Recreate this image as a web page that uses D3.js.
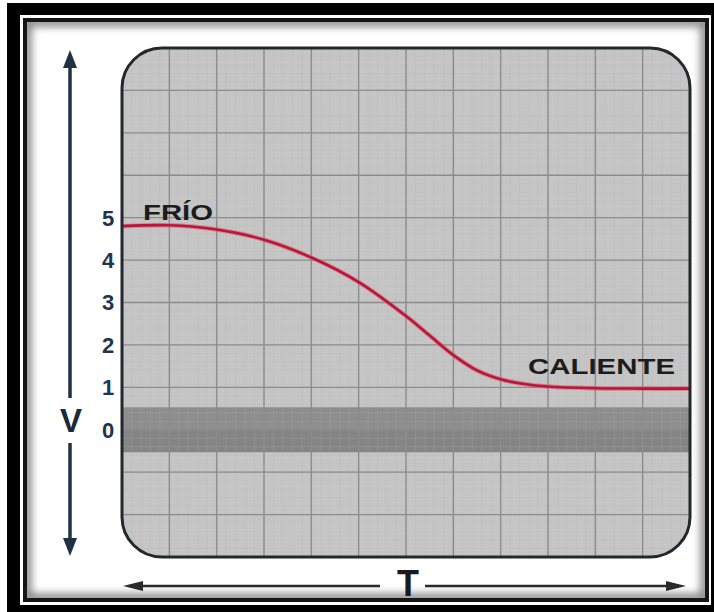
<!DOCTYPE html>
<html>
<head>
<meta charset="utf-8">
<script src="https://cdn.jsdelivr.net/npm/d3@7"></script>
<style>
  body { margin: 0; background: #fff; }
  svg { display: block; }
</style>
</head>
<body>
<div id="chart"></div>
<script>
// data: T in grid columns, V in volts
const tValues = [0, 1, 2, 3, 4, 5, 6, 6.5, 7, 7.5, 8, 8.5, 9, 10, 11, 12];
const vValues = [4.8, 4.82, 4.72, 4.48, 4.06, 3.48, 2.68, 2.22, 1.76, 1.4, 1.19, 1.08, 1.02, 0.98, 0.97, 0.97];
const yTicks = [0, 1, 2, 3, 4, 5];
const curveLabels = ['FRÍO', 'CALIENTE'];
const axisLabels = ['V', 'T'];

const W = 714, H = 612;
const plot = { left: 122, top: 48, right: 690, bottom: 557, r: 40 };

const svg = d3.select('#chart').append('svg')
  .attr('width', W)
  .attr('height', H);

const defs = svg.append('defs');

// 1) framed border: black, white ring, dark ring, white panel
svg.append('rect').attr('x', 7).attr('y', 3).attr('width', 707).attr('height', 609).attr('fill', '#000');
svg.append('rect').attr('x', 20).attr('y', 15).attr('width', 691).attr('height', 590).attr('fill', '#fff');
svg.append('rect').attr('x', 23).attr('y', 18).attr('width', 686).attr('height', 584).attr('fill', '#151515');
svg.append('rect').attr('x', 27).attr('y', 22).attr('width', 678).attr('height', 576).attr('fill', '#fff');

// inner shadow of the panel
defs.append('clipPath').attr('id', 'panel-clip')
  .append('rect').attr('x', 27).attr('y', 22).attr('width', 678).attr('height', 576);
defs.append('filter').attr('id', 'blur')
  .attr('x', '-10%').attr('y', '-10%').attr('width', '120%').attr('height', '120%')
  .append('feGaussianBlur').attr('stdDeviation', 4);
svg.append('g').attr('clip-path', 'url(#panel-clip)')
  .append('rect')
    .attr('x', 27).attr('y', 22).attr('width', 678).attr('height', 576)
    .attr('fill', 'none')
    .attr('stroke', '#777')
    .attr('stroke-width', 8)
    .attr('filter', 'url(#blur)');

// 2) scales
const x = d3.scaleLinear().domain([0, 12]).range([plot.left, plot.right]);
const y = d3.scaleLinear().domain([-3, 9]).range([plot.bottom, plot.top]);

// 3) rounded plot area + clipped grid
defs.append('clipPath').attr('id', 'plot-clip')
  .append('rect')
    .attr('x', plot.left).attr('y', plot.top)
    .attr('width', plot.right - plot.left).attr('height', plot.bottom - plot.top)
    .attr('rx', plot.r);

svg.append('rect')
  .attr('x', plot.left).attr('y', plot.top)
  .attr('width', plot.right - plot.left).attr('height', plot.bottom - plot.top)
  .attr('rx', plot.r)
  .attr('fill', '#c5c5c5');

const grid = svg.append('g').attr('clip-path', 'url(#plot-clip)');

// dark band around 0
grid.append('rect')
  .attr('x', plot.left).attr('width', plot.right - plot.left)
  .attr('y', y(0.53)).attr('height', y(0) - y(0.53))
  .attr('fill', '#8e8e8e');
grid.append('rect')
  .attr('x', plot.left).attr('width', plot.right - plot.left)
  .attr('y', y(0)).attr('height', y(-0.53) - y(0))
  .attr('fill', '#858585');

// minor grid
const minorX = d3.range(0, 12.01, 0.2);
const minorY = d3.range(-3, 9.01, 0.2);
grid.selectAll('.minor-x').data(minorX).enter().append('line')
  .attr('x1', d => x(d)).attr('x2', d => x(d))
  .attr('y1', plot.top).attr('y2', plot.bottom)
  .attr('stroke', '#b4b4b4').attr('stroke-width', 0.6).attr('opacity', 0.35);
grid.selectAll('.minor-y').data(minorY).enter().append('line')
  .attr('y1', d => y(d)).attr('y2', d => y(d))
  .attr('x1', plot.left).attr('x2', plot.right)
  .attr('stroke', '#b4b4b4').attr('stroke-width', 0.6).attr('opacity', 0.35);

// major grid
grid.selectAll('.major-x').data(d3.range(1, 12)).enter().append('line')
  .attr('x1', d => x(d)).attr('x2', d => x(d))
  .attr('y1', plot.top).attr('y2', plot.bottom)
  .attr('stroke', '#8c8c8c').attr('stroke-width', 1.4);
grid.selectAll('.major-y').data(d3.range(-2, 9)).enter().append('line')
  .attr('y1', d => y(d)).attr('y2', d => y(d))
  .attr('x1', plot.left).attr('x2', plot.right)
  .attr('stroke', '#8c8c8c').attr('stroke-width', 1.4);

// 4) the curve
const line = d3.line()
  .x((d, i) => x(tValues[i]))
  .y(d => y(d))
  .curve(d3.curveCatmullRom.alpha(0.5));

grid.append('path')
  .datum(vValues)
  .attr('fill', 'none')
  .attr('stroke', '#e0566a')
  .attr('stroke-width', 4.5)
  .attr('opacity', 0.6)
  .attr('d', line);
grid.append('path')
  .datum(vValues)
  .attr('fill', 'none')
  .attr('stroke', '#b8173a')
  .attr('stroke-width', 2.6)
  .attr('d', line);

// plot outline on top
svg.append('rect')
  .attr('x', plot.left).attr('y', plot.top)
  .attr('width', plot.right - plot.left).attr('height', plot.bottom - plot.top)
  .attr('rx', plot.r)
  .attr('fill', 'none')
  .attr('stroke', '#22292e')
  .attr('stroke-width', 3);

// 5) curve labels
const labelFont = 'Liberation Sans, Arial, sans-serif';
svg.append('text')
  .attr('x', 143).attr('y', 220)
  .attr('textLength', 70).attr('lengthAdjust', 'spacingAndGlyphs')
  .attr('font-family', labelFont).attr('font-weight', 700).attr('font-size', 22)
  .attr('fill', '#1c1c1c')
  .text(curveLabels[0]);
svg.append('text')
  .attr('x', 528).attr('y', 374)
  .attr('textLength', 147).attr('lengthAdjust', 'spacingAndGlyphs')
  .attr('font-family', labelFont).attr('font-weight', 700).attr('font-size', 22)
  .attr('fill', '#1c1c1c')
  .text(curveLabels[1]);

// 6) y tick labels
svg.selectAll('.ytick').data(yTicks).enter().append('text')
  .attr('x', 108).attr('y', d => y(d))
  .attr('dy', '0.36em')
  .attr('text-anchor', 'middle')
  .attr('font-family', labelFont).attr('font-weight', 700).attr('font-size', 22)
  .attr('fill', '#1d3550')
  .text(d => d);

// 7) V arrow (vertical)
const axisColor = '#1f3244';
svg.append('line').attr('x1', 70).attr('x2', 70).attr('y1', 62).attr('y2', 398)
  .attr('stroke', axisColor).attr('stroke-width', 3.5);
svg.append('line').attr('x1', 70).attr('x2', 70).attr('y1', 443).attr('y2', 543)
  .attr('stroke', axisColor).attr('stroke-width', 3.5);
svg.append('path').attr('d', 'M70,50 L63,68 L77,68 Z').attr('fill', axisColor);
svg.append('path').attr('d', 'M70,556 L63,538 L77,538 Z').attr('fill', axisColor);
svg.append('text')
  .attr('x', 71).attr('y', 432)
  .attr('text-anchor', 'middle')
  .attr('font-family', labelFont).attr('font-weight', 700).attr('font-size', 33)
  .attr('fill', '#1a2a38')
  .text(axisLabels[0]);

// 8) T arrow (horizontal)
const tColor = '#2a2a2a';
svg.append('line').attr('x1', 135).attr('x2', 380).attr('y1', 586).attr('y2', 586)
  .attr('stroke', tColor).attr('stroke-width', 2.5);
svg.append('line').attr('x1', 425).attr('x2', 673).attr('y1', 586).attr('y2', 586)
  .attr('stroke', tColor).attr('stroke-width', 2.5);
svg.append('path').attr('d', 'M123,586 L143,581 L143,591 Z').attr('fill', tColor);
svg.append('path').attr('d', 'M686,586 L666,581 L666,591 Z').attr('fill', tColor);
svg.append('text')
  .attr('x', 408).attr('y', 596)
  .attr('text-anchor', 'middle')
  .attr('font-family', labelFont).attr('font-weight', 700).attr('font-size', 36)
  .attr('fill', '#1a1a1a')
  .text(axisLabels[1]);
</script>
</body>
</html>
